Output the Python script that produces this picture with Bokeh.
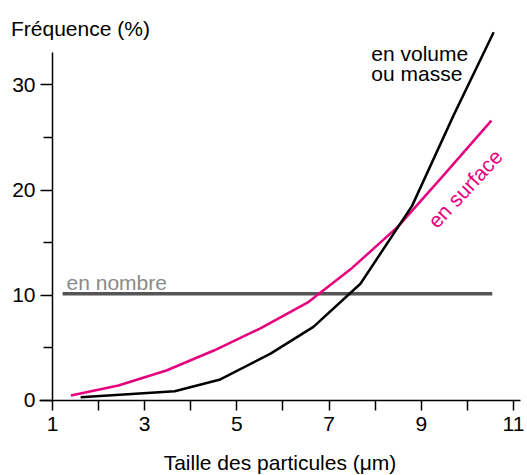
from bokeh.plotting import figure
from bokeh.models import FixedTicker, Label, Range1d
from bokeh.embed import file_html
from bokeh.resources import INLINE

# ---- data ----
x_ticks = [1, 3, 5, 7, 9, 11]
x_minor = [2, 4, 6, 8, 10]
y_ticks = [0, 10, 20, 30]
y_minor = [5, 15, 25]

volume_x = [1.61, 3.65, 4.64, 5.73, 6.66, 7.68, 8.8, 9.7, 10.57]
volume_y = [0.3, 0.88, 2.0, 4.46, 7.0, 11.1, 18.5, 27.1, 35.0]
surface_x = [1.4, 2.43, 3.47, 4.5, 5.5, 6.53, 7.5, 8.5, 9.5, 10.52]
surface_y = [0.48, 1.43, 2.85, 4.75, 6.84, 9.3, 12.6, 16.55, 21.5, 26.6]
nombre_x = [1.22, 10.54]
nombre_y = [10.15, 10.15]

FONT = "Liberation Sans"
PINK = "#e6007e"

p = figure(width=527, height=475, output_backend="svg", toolbar_location=None,
           x_range=Range1d(-0.128, 11.304), y_range=Range1d(-7.129, 38.02),
           min_border_left=0, min_border_right=0, min_border_top=0,
           min_border_bottom=0)
p.outline_line_color = None
p.grid.visible = False
p.background_fill_color = "white"
p.border_fill_color = "white"

# lines
p.line(nombre_x, nombre_y, line_color="#555555", line_width=3.5)
p.line(surface_x, surface_y, line_color=PINK, line_width=2.5)
p.line(volume_x, volume_y, line_color="black", line_width=2.5)

# axes (crossing at x=1, y=0)
xa = p.xaxis[0]
xa.fixed_location = 0
xa.bounds = (0.718, 11.152)
xa.ticker = FixedTicker(ticks=x_ticks, minor_ticks=x_minor)
xa.major_tick_in = 0
xa.major_tick_out = 10
xa.minor_tick_in = 0
xa.minor_tick_out = 10
xa.major_label_standoff = 7
xa.axis_label = "Taille des particules (μm)"
xa.axis_label_standoff = 16
xa.axis_label_text_font = FONT
xa.axis_label_text_font_size = "21px"
xa.axis_label_text_font_style = "normal"
xa.axis_label_text_color = "black"

ya = p.yaxis[0]
ya.fixed_location = 1
ya.bounds = (0, 33.08)
ya.ticker = FixedTicker(ticks=y_ticks, minor_ticks=y_minor)
ya.major_tick_in = 0
ya.major_tick_out = 12
ya.minor_tick_in = 0
ya.minor_tick_out = 9
ya.major_label_standoff = 5

for ax in (xa, ya):
    ax.axis_line_color = "black"
    ax.axis_line_width = 1.5
    ax.major_tick_line_color = "black"
    ax.major_tick_line_width = 1.5
    ax.minor_tick_line_color = "black"
    ax.minor_tick_line_width = 1.5
    ax.major_label_text_font = FONT
    ax.major_label_text_font_size = "21px"
    ax.major_label_text_color = "black"

# texts
def add_text(x, y, txt, color, **kw):
    p.add_layout(Label(x=x, y=y, text=txt, text_font=FONT,
                       text_font_size="21px", text_color=color,
                       text_baseline="middle", **kw))

add_text(0.10, 35.4, "Fréquence (%)", "black")
add_text(7.915, 33.02, "en volume", "black")
add_text(7.915, 31.12, "ou masse", "black")
add_text(1.304, 11.25, "en nombre", "#8a8a8a")
add_text(9.95, 20.15, "en surface", PINK, text_align="center",
         angle=47, angle_units="deg")

open("out.html", "w").write(file_html(p, INLINE))
